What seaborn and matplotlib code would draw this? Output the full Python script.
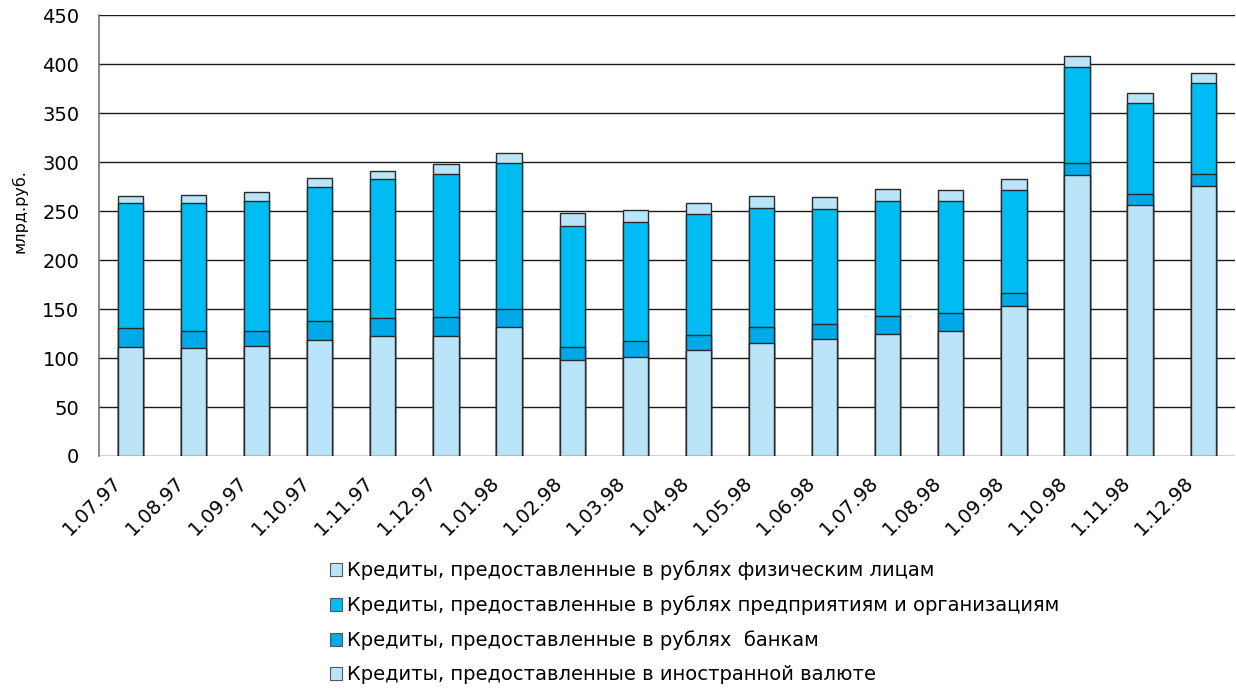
import matplotlib
matplotlib.use("Agg")
import matplotlib.pyplot as plt
import matplotlib.transforms as mtransforms
from matplotlib.patches import Patch
import seaborn as sns
import pandas as pd
import numpy as np

dates = ["1.07.97", "1.08.97", "1.09.97", "1.10.97", "1.11.97", "1.12.97",
         "1.01.98", "1.02.98", "1.03.98", "1.04.98", "1.05.98", "1.06.98",
         "1.07.98", "1.08.98", "1.09.98", "1.10.98", "1.11.98", "1.12.98"]

# segments from bottom to top
foreign = [111.5, 110, 112, 118.4, 122.4, 123, 131.3, 98, 101.3, 108.2,
           115.6, 119.4, 124.8, 127.2, 152.7, 287.4, 256, 275.8]
banks = [18.8, 18, 16, 19.6, 18.4, 18.5, 19, 13.6, 16.4, 14.9,
         16.4, 15.3, 18.4, 18.4, 13.3, 11.9, 12, 12.6]
enterprises = [127.5, 130, 132.6, 136.8, 141.8, 146.5, 149, 123.4, 120.7, 123.9,
               120.7, 117, 117.3, 114.3, 105.8, 98, 92.5, 92.9]
individuals = [7.2, 8, 8.5, 9.2, 8.4, 10.6, 10.2, 12.6, 12.3, 11.8,
               12.3, 12.6, 12.3, 11.5, 11.2, 11.2, 10.5, 9.9]

labels = ["Кредиты, предоставленные в рублях физическим лицам",
          "Кредиты, предоставленные в рублях предприятиям и организациям",
          "Кредиты, предоставленные в рублях  банкам",
          "Кредиты, предоставленные в иностранной валюте"]
colors = ["#bae5f8", "#00bcf2", "#00a9e8", "#bae5f8"]

df = pd.DataFrame({"date": dates, "foreign": foreign, "banks": banks,
                   "enterprises": enterprises, "individuals": individuals})
df["c_foreign"] = df["foreign"]
df["c_banks"] = df["c_foreign"] + df["banks"]
df["c_ent"] = df["c_banks"] + df["enterprises"]
df["c_ind"] = df["c_ent"] + df["individuals"]

sns.set_style("white")
plt.rcParams["font.family"] = ["DejaVu Sans"]
plt.rcParams["text.color"] = "black"
plt.rcParams["xtick.color"] = "black"
plt.rcParams["ytick.color"] = "black"

fig = plt.figure(figsize=(12.36, 6.93), dpi=100)
ax = fig.add_axes([0.080, 0.342, 0.919, 0.636])

# stacked bars drawn as overlapping cumulative totals, tallest first
for col, c in zip(["c_ind", "c_ent", "c_banks", "c_foreign"], colors):
    sns.barplot(data=df, x="date", y=col, color=c, width=0.4, saturation=1,
                edgecolor="#2a2a2a", linewidth=1.0, ax=ax, zorder=3)

ax.set_ylim(0, 450)
ax.set_xlim(-0.5, len(dates) - 0.5)
ax.set_yticks(np.arange(0, 451, 50))
ax.yaxis.grid(True, color="#1a1a1a", linewidth=1.0)
ax.set_axisbelow(True)
for s in ["top", "right", "bottom"]:
    ax.spines[s].set_visible(False)
ax.spines["left"].set_color("#777777")
ax.spines["left"].set_linewidth(1.2)

ax.tick_params(axis="y", length=9, width=1, color="#333333", labelsize=14,
               labelcolor="black", pad=5)
ax.set_ylabel("млрд.руб.", fontsize=11.5, color="black")
ax.yaxis.set_label_coords(-0.063, 0.555)
ax.set_xlabel("")

ax.set_xticks(np.arange(len(dates)))
ax.set_xticklabels(dates, rotation=45, ha="right", va="top",
                   rotation_mode="anchor", fontsize=14, color="black")
ax.tick_params(axis="x", which="major", length=0, pad=12)
ax.set_xticks(np.arange(len(dates) + 1) - 0.5, minor=True)
ax.tick_params(axis="x", which="minor", length=7, width=1, color="#333333")
shift = mtransforms.ScaledTranslation(-0.19, 0, fig.dpi_scale_trans)
for t in ax.get_xticklabels():
    t.set_transform(t.get_transform() + shift)

handles = [Patch(facecolor=c, edgecolor="#555555", linewidth=0.8) for c in colors]
fig.legend(handles, labels, loc="upper left", bbox_to_anchor=(0.259, 0.205),
           frameon=False, fontsize=14, handlelength=0.65, handleheight=0.65,
           handletextpad=0.25, labelspacing=0.78, borderpad=0)

fig.savefig("out.png", dpi=100)
